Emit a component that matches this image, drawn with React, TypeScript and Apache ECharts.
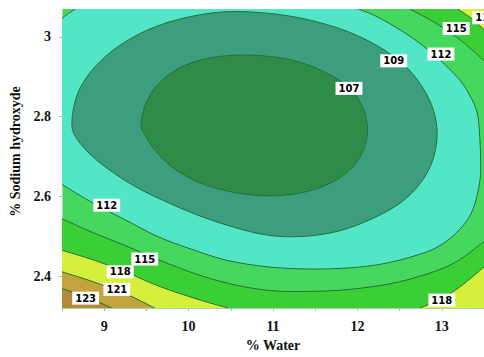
import React, { useEffect, useRef } from 'react';
import * as echarts from 'echarts';

// Axis extents and ticks
const X_MIN = 8.5;
const X_MAX = 13.5;
const Y_MIN = 2.32;
const Y_MAX = 3.07;
const X_TICKS = [9, 10, 11, 12, 13];
const X_MINOR = [8.5, 9, 9.5, 10, 10.5, 11, 11.5, 12, 12.5, 13, 13.5];
const Y_TICKS = [2.4, 2.6, 2.8, 3.0];

// Contour lines, [% Water, % Sodium hydroxyde]
const C107 = [[9.436, 2.78], [9.495, 2.834], [9.637, 2.881], [9.874, 2.92], [10.194, 2.945], [10.55, 2.954], [10.905, 2.952], [11.261, 2.94], [11.581, 2.915], [11.853, 2.881], [12.031, 2.837], [12.114, 2.785], [12.102, 2.736], [11.995, 2.687], [11.794, 2.647], [11.498, 2.618], [11.142, 2.603], [10.787, 2.603], [10.431, 2.615], [10.1, 2.637], [9.815, 2.672], [9.602, 2.716], [9.483, 2.755]];
const C109 = [[8.618, 2.777], [8.642, 2.827], [8.725, 2.876], [8.891, 2.925], [9.152, 2.974], [9.519, 3.018], [9.957, 3.048], [10.431, 3.063], [10.905, 3.06], [11.379, 3.045], [11.853, 3.016], [12.268, 2.974], [12.6, 2.92], [12.813, 2.859], [12.919, 2.802], [12.943, 2.745], [12.884, 2.686], [12.742, 2.632], [12.505, 2.583], [12.173, 2.544], [11.794, 2.514], [11.379, 2.5], [10.964, 2.502], [10.55, 2.522], [10.135, 2.551], [9.72, 2.588], [9.365, 2.625], [9.045, 2.669], [8.808, 2.711], [8.666, 2.748]];
const C112 = [[12.01, 3.07], [12.21, 3.053], [12.54, 3.013], [12.86, 2.964], [13.18, 2.9], [13.33, 2.854], [13.42, 2.809], [13.45, 2.748], [13.46, 2.686], [13.45, 2.637], [13.37, 2.568], [13.22, 2.519], [12.98, 2.477], [12.71, 2.453], [12.3, 2.431], [11.91, 2.421], [11.44, 2.418], [10.96, 2.423], [10.49, 2.438], [10.14, 2.46], [9.66, 2.497], [9.27, 2.539], [8.87, 2.583], [8.5, 2.63]];
const C112_CORNER = [[8.5, 3.046], [8.57, 3.058], [8.66, 3.07]];
const C115_TOP = [[12.62, 3.07], [12.94, 3.033], [13.24, 2.989], [13.5, 2.94]];
const C115_BOTTOM = [[8.5, 2.544], [8.87, 2.509], [9.27, 2.475], [9.66, 2.44], [10.08, 2.406], [10.49, 2.381], [10.96, 2.364], [11.44, 2.362], [11.91, 2.367], [12.5, 2.386], [13.1, 2.428], [13.5, 2.487]];
const C118_TOP = [[13.19, 3.07], [13.36, 3.045], [13.5, 3.018]];
const C118_LEFT = [[8.5, 2.465], [8.87, 2.441], [9.27, 2.409], [9.66, 2.374], [10.14, 2.34], [10.47, 2.32]];
const C118_RIGHT = [[12.74, 2.32], [12.98, 2.342], [13.22, 2.374], [13.5, 2.423]];
const C121 = [[8.5, 2.411], [8.87, 2.386], [9.27, 2.354], [9.6, 2.32]];
const C123 = [[8.5, 2.369], [8.8, 2.347], [9.09, 2.32]];

// Contour labels
const LABEL_TEXT = ['107', '109', '112', '115', '118', '112', '115', '118', '121', '123', '118'];
const LABEL_X = [11.9, 12.43, 12.99, 13.17, 13.52, 9.03, 9.48, 9.19, 9.15, 8.78, 13.0];
const LABEL_Y = [2.871, 2.94, 2.957, 3.021, 3.048, 2.578, 2.443, 2.411, 2.367, 2.345, 2.34];

const COL = {
  base: '#46d85e',
  r115: '#3bcf36',
  r118: '#d6ee3c',
  r121: '#c4a23e',
  r123: '#b48a3a',
  r112: '#52e6c6',
  r109: '#3c9e7e',
  r107: '#2f8c48',
  line: '#23703a',
};

const TR = [X_MAX, Y_MAX];
const BR = [X_MAX, Y_MIN];
const BL = [X_MIN, Y_MIN];

type Layer = { kind: 'fill' | 'stroke'; curves: number[][][]; corners?: number[][]; closed?: boolean; color?: string };

const FILLS: Layer[] = [
  { kind: 'fill', curves: [C115_TOP], corners: [TR], color: COL.r115 },
  { kind: 'fill', curves: [C115_BOTTOM], corners: [BR, BL], color: COL.r115 },
  { kind: 'fill', curves: [C118_TOP], corners: [TR], color: COL.r118 },
  { kind: 'fill', curves: [C118_LEFT], corners: [BL], color: COL.r118 },
  { kind: 'fill', curves: [C118_RIGHT], corners: [BR], color: COL.r118 },
  { kind: 'fill', curves: [C121], corners: [BL], color: COL.r121 },
  { kind: 'fill', curves: [C123], corners: [BL], color: COL.r123 },
  { kind: 'fill', curves: [C112, C112_CORNER], corners: [], color: COL.r112 },
  { kind: 'fill', curves: [C109], closed: true, color: COL.r109 },
  { kind: 'fill', curves: [C107], closed: true, color: COL.r107 },
];
const OPEN_LINES = [C115_TOP, C115_BOTTOM, C118_TOP, C118_LEFT, C118_RIGHT, C121, C123, C112, C112_CORNER];
const STROKES: Layer[] = [
  ...OPEN_LINES.map((c) => ({ kind: 'stroke' as const, curves: [c] })),
  { kind: 'stroke', curves: [C109], closed: true },
  { kind: 'stroke', curves: [C107], closed: true },
];
const LAYERS: Layer[] = [...FILLS, ...STROKES];

function curvePath(pts: number[][], start: string, closed: boolean): string {
  const n = pts.length;
  const get = (i: number) => (closed ? pts[(i + n) % n] : pts[Math.max(0, Math.min(n - 1, i))]);
  let d = `${start}${pts[0][0]} ${pts[0][1]}`;
  const segs = closed ? n : n - 1;
  for (let i = 0; i < segs; i++) {
    const p0 = get(i - 1), p1 = get(i), p2 = get(i + 1), p3 = get(i + 2);
    const c1x = p1[0] + (p2[0] - p0[0]) / 6;
    const c1y = p1[1] + (p2[1] - p0[1]) / 6;
    const c2x = p2[0] - (p3[0] - p1[0]) / 6;
    const c2y = p2[1] - (p3[1] - p1[1]) / 6;
    d += ` C${c1x} ${c1y} ${c2x} ${c2y} ${p2[0]} ${p2[1]}`;
  }
  if (closed) d += ' Z';
  return d;
}

const FONT = 'Liberation Serif';

export default function App() {
  const ref = useRef<HTMLDivElement>(null);
  useEffect(() => {
    document.body.style.margin = '0';
    const chart = echarts.init(ref.current!, null, { renderer: 'svg' });
    const option: any = {
      animation: false,
      backgroundColor: '#ffffff',
      grid: { left: 62, right: 0, top: 9, bottom: 43, show: true, backgroundColor: COL.base, borderWidth: 0 },
      xAxis: {
        type: 'value',
        min: X_MIN,
        max: X_MAX,
        name: '% Water',
        nameLocation: 'middle',
        nameGap: 27,
        nameTextStyle: { fontFamily: FONT, fontWeight: 'bold', fontSize: 14, color: '#111' },
        axisLine: { show: true, lineStyle: { color: '#a8d8a8', width: 1 } },
        axisTick: { show: true, customValues: X_MINOR, length: 3, lineStyle: { color: '#8fd08f' } },
        axisLabel: { customValues: X_TICKS, fontFamily: FONT, fontWeight: 'bold', fontSize: 14, color: '#111', margin: 11 },
        splitLine: { show: false },
      },
      yAxis: {
        type: 'value',
        min: Y_MIN,
        max: Y_MAX,
        name: '% Sodium hydroxyde',
        nameLocation: 'middle',
        nameGap: 39,
        nameTextStyle: { fontFamily: FONT, fontWeight: 'bold', fontSize: 14, color: '#111', padding: [0, 0, 0, 14] },
        axisLine: { show: true, lineStyle: { color: '#a8d8a8', width: 1 } },
        axisTick: { show: true, customValues: Y_TICKS, length: 3, lineStyle: { color: '#8fd08f' } },
        axisLabel: {
          customValues: Y_TICKS,
          fontFamily: FONT,
          fontWeight: 'bold',
          fontSize: 14,
          color: '#111',
          margin: 11,
          formatter: (v: number) => String(Math.round(v * 10) / 10),
        },
        splitLine: { show: false },
      },
      series: [
        {
          type: 'custom',
          coordinateSystem: 'cartesian2d',
          silent: true,
          z: 2,
          data: LAYERS.map((_, i) => i),
          renderItem: (params: any, api: any) => {
            const L = LAYERS[params.dataIndex];
            const cs = params.coordSys;
            let d = '';
            L.curves.forEach((c, i) => {
              const px = c.map((p) => api.coord(p));
              d += (i === 0 ? '' : ' ') + curvePath(px, i === 0 ? 'M' : 'L', !!L.closed);
            });
            (L.corners || []).forEach((p) => {
              const q = api.coord(p);
              d += ` L${q[0]} ${q[1]}`;
            });
            if (L.kind === 'fill' && !L.closed) d += ' Z';
            return {
              type: 'path',
              shape: { pathData: d },
              style:
                L.kind === 'fill'
                  ? { fill: L.color, stroke: 'none' }
                  : { fill: 'none', stroke: COL.line, lineWidth: 1 },
              clipPath: { type: 'rect', shape: { x: cs.x, y: cs.y, width: cs.width, height: cs.height } },
            };
          },
        },
        {
          type: 'custom',
          coordinateSystem: 'cartesian2d',
          silent: true,
          z: 5,
          data: LABEL_TEXT.map((_, i) => [LABEL_X[i], LABEL_Y[i]]),
          renderItem: (params: any, api: any) => {
            const p = api.coord([api.value(0), api.value(1)]);
            return {
              type: 'text',
              x: p[0],
              y: p[1],
              style: {
                text: LABEL_TEXT[params.dataIndex],
                fill: '#000',
                font: 'bold 10px "DejaVu Sans"',
                backgroundColor: '#ffffff',
                padding: [2, 3, 1, 3],
                align: 'center',
                verticalAlign: 'middle',
              },
            };
          },
        },
      ],
    };
    chart.setOption(option);
    return () => chart.dispose();
  }, []);
  return <div ref={ref} style={{ width: 484, height: 357 }} />;
}
